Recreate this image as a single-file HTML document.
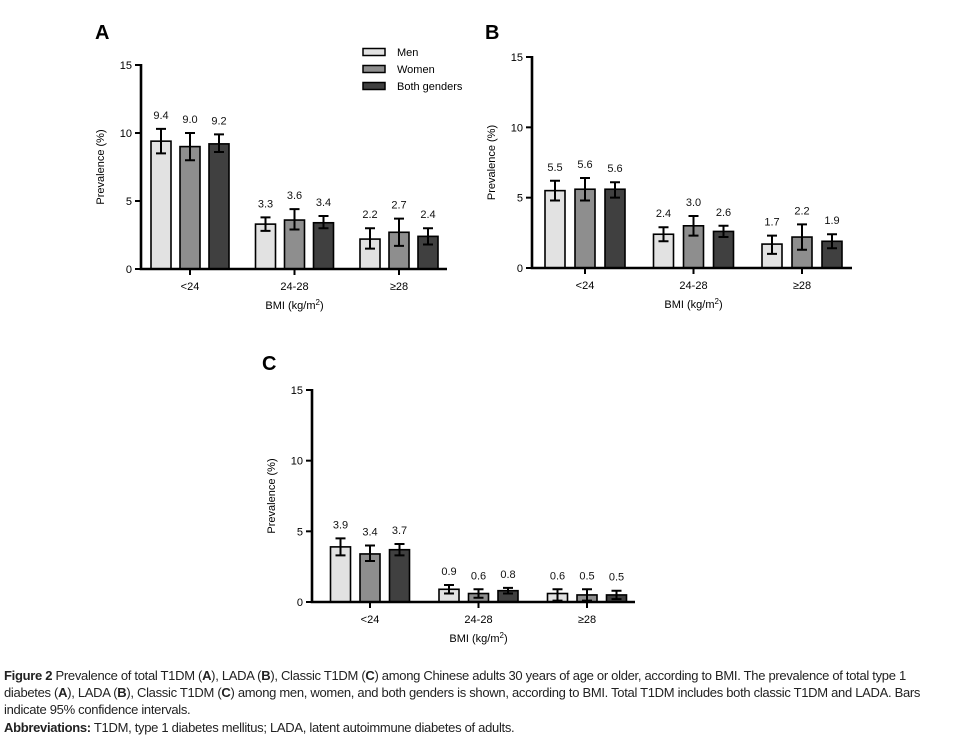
<!DOCTYPE html>
<html><head><meta charset="utf-8">
<style>
body{margin:0;background:#fff;width:962px;height:751px;overflow:hidden;position:relative;font-family:"Liberation Sans",sans-serif}
svg{position:absolute;left:0;top:0}
.cap{position:absolute;left:4px;font-family:"Liberation Sans Narrow","Liberation Sans",sans-serif;font-size:13px;color:#222;white-space:nowrap;letter-spacing:-0.3px}
</style></head><body>
<svg id="chart" width="962" height="751"></svg>
<div class="cap" style="top:668px"><b>Figure 2</b> Prevalence of total T1DM (<b>A</b>), LADA (<b>B</b>), Classic T1DM (<b>C</b>) among Chinese adults 30 years of age or older, according to BMI. The prevalence of total type 1</div>
<div class="cap" style="top:685px">diabetes (<b>A</b>), LADA (<b>B</b>), Classic T1DM (<b>C</b>) among men, women, and both genders is shown, according to BMI. Total T1DM includes both classic T1DM and LADA. Bars</div>
<div class="cap" style="top:702px">indicate 95% confidence intervals.</div>
<div class="cap" style="top:720px"><b>Abbreviations:</b> T1DM, type 1 diabetes mellitus; LADA, latent autoimmune diabetes of adults.</div>
<script>
const categories = ["<24", "24-28", "\u226528"];
const seriesNames = ["Men", "Women", "Both genders"];
const yTicks = [0, 5, 10, 15];
// Panel A
const aValues = [[9.4, 3.3, 2.2], [9.0, 3.6, 2.7], [9.2, 3.4, 2.4]];
const aLow = [[8.5, 2.8, 1.5], [8.0, 2.9, 1.7], [8.6, 3.0, 1.8]];
const aHigh = [[10.3, 3.8, 3.0], [10.0, 4.4, 3.7], [9.9, 3.9, 3.0]];
// Panel B
const bValues = [[5.5, 2.4, 1.7], [5.6, 3.0, 2.2], [5.6, 2.6, 1.9]];
const bLow = [[4.8, 1.9, 1.0], [4.8, 2.3, 1.3], [5.0, 2.2, 1.4]];
const bHigh = [[6.2, 2.9, 2.3], [6.4, 3.7, 3.1], [6.1, 3.0, 2.4]];
// Panel C
const cValues = [[3.9, 0.9, 0.6], [3.4, 0.6, 0.5], [3.7, 0.8, 0.5]];
const cLow = [[3.3, 0.6, 0.1], [2.9, 0.3, 0.1], [3.3, 0.6, 0.2]];
const cHigh = [[4.5, 1.2, 0.9], [4.0, 0.9, 0.9], [4.1, 1.0, 0.8]];

const colors = ["#e2e2e2", "#8e8e8e", "#404040"];
const NS = "http://www.w3.org/2000/svg";
const svg = document.getElementById("chart");
function mk(tag, attrs, parent, text){
  const e = document.createElementNS(NS, tag);
  for (const k in attrs) e.setAttribute(k, attrs[k]);
  if (text !== undefined) e.textContent = text;
  (parent || svg).appendChild(e);
  return e;
}
function drawPanel(p, vals, lo, hi){
  const g = mk("g", {});
  
  
  const y = v => p.y0 - (p.y0 - p.y15) * v / 15;
  const gx = i => p.c0 + i * p.step;
  const t = mk("text", {x: p.lx, y: p.ly, "font-size": 20, "font-weight": "bold"}, g, p.letter);
  
  
  for (let s = 0; s < 3; s++) for (let i = 0; i < 3; i++) {
    const cx = gx(i) + (s - 1) * p.bs;
    const v = vals[s][i];
    const r = mk("rect", {x: cx - p.bw/2, y: y(v), width: p.bw, height: p.y0 - y(v), fill: colors[s], stroke: "#000", "stroke-width": 1.6}, g);
    
    
    const eb = mk("path", {d: `M${cx},${y(lo[s][i])}V${y(hi[s][i])}M${cx-5},${y(lo[s][i])}H${cx+5}M${cx-5},${y(hi[s][i])}H${cx+5}`, stroke: "#000", "stroke-width": 2, fill: "none"}, g);
    
    
    const lb = mk("text", {x: cx, y: y(hi[s][i]) - 10, "font-size": 11, "text-anchor": "middle", fill: "#111"}, g, v.toFixed(1));
    
    
  }
  mk("path", {d: `M${p.ax},${p.y15 - 1}V${p.y0}H${p.xEnd}`, stroke: "#000", "stroke-width": 2.6, fill: "none"}, g);
  yTicks.forEach(tv => {
    mk("path", {d: `M${p.ax-6},${y(tv)}H${p.ax}`, stroke: "#000", "stroke-width": 2}, g);
    const tl = mk("text", {x: p.ax - 9, y: y(tv) + 4, "font-size": 11, "text-anchor": "end"}, g, tv);
    
    
  });
  categories.forEach((c, i) => {
    mk("path", {d: `M${gx(i)},${p.y0}V${p.y0+6}`, stroke: "#000", "stroke-width": 2}, g);
    const cl = mk("text", {x: gx(i), y: p.y0 + 21, "font-size": 11, "text-anchor": "middle"}, g, c);
    
    
  });
  const xt = mk("text", {x: gx(1), y: p.y0 + 40, "font-size": 11, "text-anchor": "middle"}, g);
  xt.innerHTML = 'BMI (kg/m<tspan dy="-4" font-size="8">2</tspan><tspan dy="4">)</tspan>';
  
  
  const yt = mk("text", {x: 0, y: 0, "font-size": 11, "text-anchor": "middle", transform: `translate(${p.ax-37},${(p.y0+p.y15)/2}) rotate(-90)`}, g, "Prevalence (%)");
  
  
}
drawPanel({letter:"A", lx:95, ly:39, ax:141, y0:269, y15:65, xEnd:447, c0:190, step:104.5, bs:29, bw:20}, aValues, aLow, aHigh);
drawPanel({letter:"B", lx:485, ly:39, ax:532, y0:268, y15:57, xEnd:852, c0:585, step:108.5, bs:30, bw:20}, bValues, bLow, bHigh);
drawPanel({letter:"C", lx:262, ly:370, ax:312, y0:602, y15:390, xEnd:635, c0:370, step:108.5, bs:29.5, bw:20}, cValues, cLow, cHigh);
// legend (panel A)
seriesNames.forEach((n, s) => {
  const yy = 52 + s * 17;
  const lg = mk("g", {});
  
  
  mk("rect", {x: 363, y: yy - 3.5, width: 22, height: 7, fill: colors[s], stroke: "#000", "stroke-width": 1.5}, lg);
  mk("text", {x: 397, y: yy + 4, "font-size": 11}, lg, n);
});
</script>
</body></html>
